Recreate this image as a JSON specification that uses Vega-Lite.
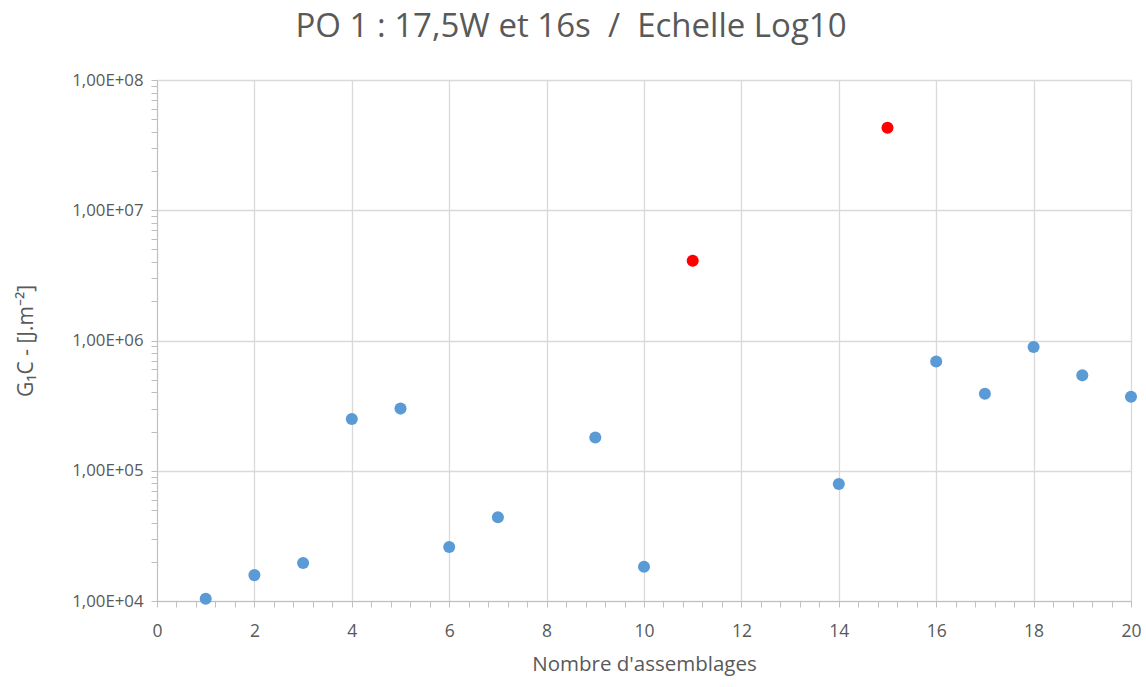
{
  "$schema": "https://vega.github.io/schema/vega-lite/v6.json",
  "autosize": {"type": "none"},
  "padding": {"left": 157, "top": 80, "right": 15, "bottom": 86},
  "width": 974,
  "height": 521,
  "background": "white",
  "title": {
    "text": "PO 1 : 17,5W et 16s \u00a0/\u00a0 Echelle Log10",
    "font": "Open Sans",
    "fontSize": 33,
    "fontWeight": "normal",
    "color": "#595959",
    "anchor": "middle",
    "dx": -73,
    "offset": 28
  },
  "config": {
    "view": {"stroke": null},
    "font": "Open Sans"
  },
  "data": {
    "values": [
      {"n": 1, "g": 10400, "grp": "normal"},
      {"n": 2, "g": 15800, "grp": "normal"},
      {"n": 3, "g": 19600, "grp": "normal"},
      {"n": 4, "g": 250000, "grp": "normal"},
      {"n": 5, "g": 300000, "grp": "normal"},
      {"n": 6, "g": 26000, "grp": "normal"},
      {"n": 7, "g": 44000, "grp": "normal"},
      {"n": 9, "g": 180000, "grp": "normal"},
      {"n": 10, "g": 18300, "grp": "normal"},
      {"n": 11, "g": 4100000, "grp": "rouge"},
      {"n": 14, "g": 79000, "grp": "normal"},
      {"n": 15, "g": 43000000, "grp": "rouge"},
      {"n": 16, "g": 690000, "grp": "normal"},
      {"n": 17, "g": 390000, "grp": "normal"},
      {"n": 18, "g": 890000, "grp": "normal"},
      {"n": 19, "g": 540000, "grp": "normal"},
      {"n": 20, "g": 370000, "grp": "normal"}
    ]
  },
  "mark": {"type": "point", "filled": true, "size": 145, "opacity": 1},
  "encoding": {
    "x": {
      "field": "n",
      "type": "quantitative",
      "scale": {"domain": [0, 20], "nice": false},
      "axis": {
        "title": "Nombre d'assemblages",
        "titleFont": "Open Sans",
        "titleFontSize": 20.5,
        "titleFontWeight": "normal",
        "titleColor": "#595959",
        "titlePadding": 15,
        "values": [0, 0.4, 0.8, 1.2, 1.6, 2, 2.4, 2.8, 3.2, 3.6, 4, 4.4, 4.8, 5.2, 5.6, 6, 6.4, 6.8, 7.2, 7.6, 8, 8.4, 8.8, 9.2, 9.6, 10, 10.4, 10.8, 11.2, 11.6, 12, 12.4, 12.8, 13.2, 13.6, 14, 14.4, 14.8, 15.2, 15.6, 16, 16.4, 16.8, 17.2, 17.6, 18, 18.4, 18.8, 19.2, 19.6, 20],
        "tickCount": 100,
        "labelExpr": "abs(datum.value - round(datum.value/2)*2) < 0.01 ? '' + round(datum.value) : ''",
        "labelOverlap": false,
        "labelFlush": false,
        "labelFontSize": 17.5,
        "labelColor": "#595959",
        "labelPadding": 15,
        "tickSize": 6,
        "tickColor": "#bfbfbf",
        "domainColor": "#bfbfbf",
        "grid": true,
        "gridColor": "#d9d9d9",
        "gridWidth": 1.3,
        "gridOpacity": {"condition": {"test": "abs(datum.value - round(datum.value/2)*2) < 0.01", "value": 1}, "value": 0}
      }
    },
    "y": {
      "field": "g",
      "type": "quantitative",
      "scale": {"type": "log", "domain": [10000, 100000000], "nice": false},
      "axis": {
        "title": "G₁C - [J.m⁻²]",
        "titleFont": "Open Sans",
        "titleFontSize": 21,
        "titleFontWeight": "normal",
        "titleColor": "#595959",
        "titlePadding": 35,
        "values": [10000, 20000, 30000, 40000, 50000, 60000, 70000, 80000, 90000, 100000, 200000, 300000, 400000, 500000, 600000, 700000, 800000, 900000, 1000000, 2000000, 3000000, 4000000, 5000000, 6000000, 7000000, 8000000, 9000000, 10000000, 20000000, 30000000, 40000000, 50000000, 60000000, 70000000, 80000000, 90000000, 100000000],
        "tickCount": 100,
        "labelExpr": "abs(log(datum.value)/LN10 - round(log(datum.value)/LN10)) < 0.001 ? '1,00E+0' + round(log(datum.value)/LN10) : ''",
        "labelOverlap": false,
        "labelFlush": false,
        "labelFontSize": 16.8,
        "labelColor": "#595959",
        "labelPadding": 8,
        "tickSize": 6,
        "tickColor": "#bfbfbf",
        "domainColor": "#bfbfbf",
        "grid": true,
        "gridColor": "#d9d9d9",
        "gridWidth": 1.3,
        "gridOpacity": {"condition": {"test": "abs(log(datum.value)/LN10 - round(log(datum.value)/LN10)) < 0.001", "value": 1}, "value": 0}
      }
    },
    "color": {
      "field": "grp",
      "type": "nominal",
      "scale": {"domain": ["normal", "rouge"], "range": ["#5B9BD5", "#FF0000"]},
      "legend": null
    }
  }
}
